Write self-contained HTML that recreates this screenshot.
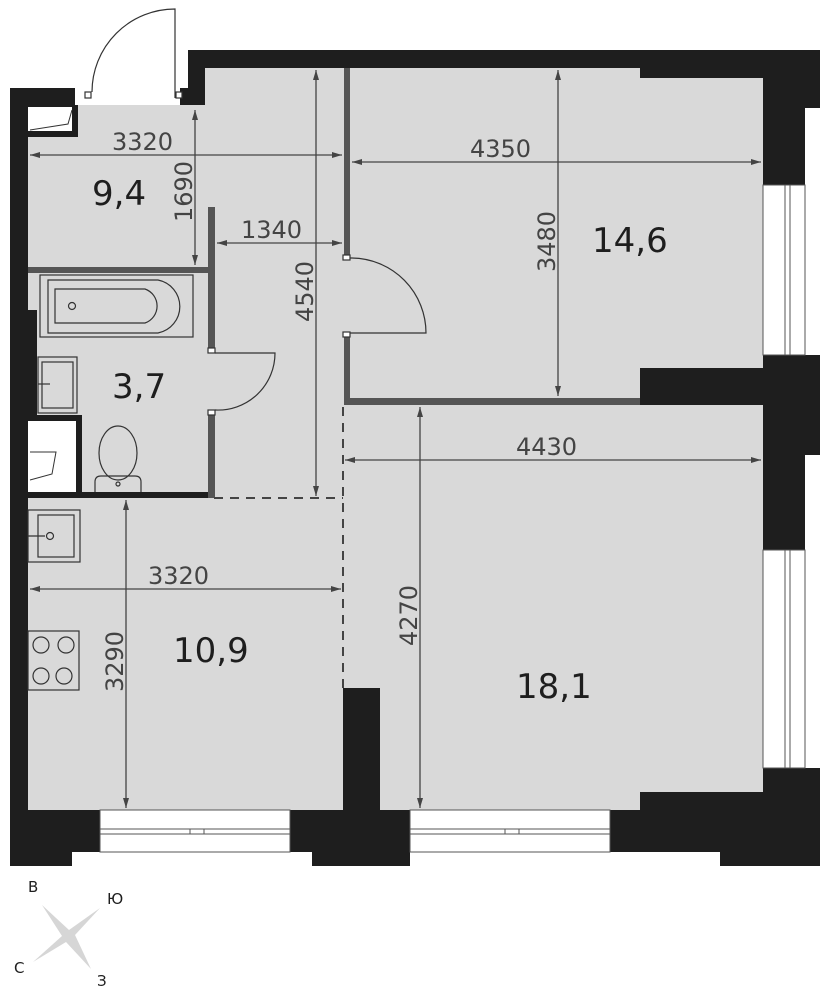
<!DOCTYPE html>
<html><head><meta charset="utf-8"><style>
html,body{margin:0;padding:0;background:#fff;width:828px;height:1000px;overflow:hidden}
text{font-family:"DejaVu Sans","Liberation Sans",sans-serif}
</style></head><body>
<svg width="828" height="1000" viewBox="0 0 828 1000" xmlns="http://www.w3.org/2000/svg">
<defs>
<marker id="a" viewBox="0 0 10 6" refX="10" refY="3" markerWidth="10" markerHeight="6" orient="auto-start-reverse" markerUnits="userSpaceOnUse"><path d="M0,0L10,3L0,6z" fill="#444"/></marker>
</defs>
<!-- floor -->
<rect x="28" y="105" width="735" height="705" fill="#d9d9d9"/>
<rect x="205" y="68" width="558" height="40" fill="#d9d9d9"/>
<g fill="#1e1e1e">
<!-- top wall -->
<rect x="188" y="50" width="575" height="18"/>
<rect x="640" y="50" width="123" height="28"/>
<rect x="188" y="50" width="17" height="55"/>
<rect x="180" y="88" width="25" height="17"/>
<!-- left -->
<rect x="10" y="88" width="65" height="17"/>
<rect x="10" y="88" width="18" height="722"/>
<rect x="10" y="310" width="27" height="140"/>
<!-- right -->
<rect x="763" y="50" width="42" height="135"/>
<rect x="805" y="50" width="15" height="58"/>
<rect x="763" y="355" width="42" height="195"/>
<rect x="805" y="355" width="15" height="100"/>
<rect x="763" y="768" width="57" height="42"/>
<rect x="640" y="792" width="123" height="18"/>
<!-- bottom -->
<rect x="10" y="810" width="90" height="42"/>
<rect x="10" y="852" width="62" height="14"/>
<rect x="290" y="810" width="120" height="42"/>
<rect x="312" y="852" width="98" height="14"/>
<rect x="610" y="810" width="210" height="42"/>
<rect x="720" y="852" width="100" height="14"/>
<!-- interior black -->
<rect x="640" y="368" width="123" height="37"/>
<rect x="343" y="688" width="37" height="122"/>
<rect x="28" y="492" width="182" height="6"/>
<rect x="76" y="415" width="6" height="80"/>
<rect x="28" y="415" width="54" height="6"/>
<rect x="28" y="105" width="50" height="32"/>
</g>
<!-- closets white -->
<rect x="28" y="421" width="48" height="71" fill="#fff"/>
<rect x="28" y="107" width="44" height="24" fill="#fff"/>
<path d="M30,130L68,124L72,110" fill="none" stroke="#333" stroke-width="1"/>
<path d="M30,480L52,474L56,452L30,452" fill="none" stroke="#333" stroke-width="1"/>
<!-- gray partitions -->
<g fill="#555">
<rect x="344" y="68" width="6" height="187"/>
<rect x="344" y="335" width="6" height="70"/>
<rect x="350" y="398" width="290" height="7"/>
<rect x="28" y="267" width="187" height="6"/>
<rect x="208" y="207" width="7" height="145"/>
<rect x="208" y="410" width="7" height="88"/>
</g>
<!-- dashed -->
<g stroke="#444" stroke-width="2" stroke-dasharray="9,7" fill="none">
<line x1="343" y1="407" x2="343" y2="688"/>
<line x1="214" y1="498" x2="343" y2="498"/>
</g>
<!-- windows -->
<g fill="#fff" stroke="#555" stroke-width="1">
<rect x="100" y="810" width="190" height="42"/>
<rect x="410" y="810" width="200" height="42"/>
<rect x="763" y="185" width="42" height="170"/>
<rect x="763" y="550" width="42" height="218"/>
<line x1="100" y1="829" x2="290" y2="829"/><line x1="100" y1="834" x2="290" y2="834"/>
<line x1="410" y1="829" x2="610" y2="829"/><line x1="410" y1="834" x2="610" y2="834"/>
<line x1="785" y1="185" x2="785" y2="355"/><line x1="790" y1="185" x2="790" y2="355"/>
<line x1="785" y1="550" x2="785" y2="768"/><line x1="790" y1="550" x2="790" y2="768"/>
<rect x="190" y="829" width="14" height="5"/><rect x="505" y="829" width="14" height="5"/>
</g>
<!-- doors -->
<g fill="none" stroke="#333" stroke-width="1.2">
<path d="M175,98L175,9A83,83 0 0 0 92,92"/>
<rect x="85" y="92" width="6" height="6" fill="#fff"/><rect x="176" y="92" width="6" height="6" fill="#fff"/>
<path d="M350,258L352,258A75,75 0 0 1 426,333L350,333"/>
<rect x="343" y="255" width="7" height="5" fill="#fff"/><rect x="343" y="332" width="7" height="5" fill="#fff"/>
<path d="M215,353L275,353A57,57 0 0 1 215,410"/>
<rect x="208" y="348" width="7" height="5" fill="#fff"/><rect x="208" y="410" width="7" height="5" fill="#fff"/>
<!-- bath -->
<rect x="40" y="275" width="153" height="62"/>
<path d="M48,280L158,280A27,27 0 0 1 158,333L48,333Z"/>
<path d="M55,289L145,289A18,18 0 0 1 145,323L55,323Z"/>
<circle cx="72" cy="306" r="3.5"/>
<!-- sink -->
<rect x="38" y="357" width="39" height="56"/><rect x="42" y="362" width="31" height="46"/>
<line x1="38" y1="384" x2="50" y2="384"/>
<!-- toilet -->
<ellipse cx="118" cy="453" rx="19" ry="27"/>
<path d="M95,492L95,482Q95,476 101,476L135,476Q141,476 141,482L141,492"/>
<circle cx="118" cy="484" r="2"/>
<!-- kitchen sink -->
<rect x="28" y="510" width="52" height="52"/><rect x="38" y="515" width="36" height="42"/>
<line x1="28" y1="536" x2="45" y2="536"/><circle cx="50" cy="536" r="3.5"/>
<!-- stove -->
<rect x="28" y="631" width="51" height="59"/>
<circle cx="41" cy="645" r="8"/><circle cx="66" cy="645" r="8"/><circle cx="41" cy="676" r="8"/><circle cx="64" cy="676" r="8"/>
</g>
<!-- dimension lines -->
<g stroke="#444" stroke-width="1.3" marker-start="url(#a)" marker-end="url(#a)">
<line x1="30" y1="155" x2="342" y2="155"/>
<line x1="352" y1="162" x2="761" y2="162"/>
<line x1="195" y1="110" x2="195" y2="265"/>
<line x1="217" y1="243" x2="342" y2="243"/>
<line x1="316" y1="70" x2="316" y2="496"/>
<line x1="558" y1="70" x2="558" y2="396"/>
<line x1="345" y1="460" x2="761" y2="460"/>
<line x1="30" y1="589" x2="341" y2="589"/>
<line x1="126" y1="500" x2="126" y2="808"/>
<line x1="420" y1="407" x2="420" y2="808"/>
</g>
<g fill="#444" font-size="24">
<text x="112" y="155" dy="-5">3320</text>
<text x="470" y="162" dy="-5">4350</text>
<text x="241" y="243" dy="-5">1340</text>
<text x="516" y="460" dy="-5">4430</text>
<text x="148" y="589" dy="-5">3320</text>
<text transform="translate(195,222) rotate(-90)" dy="-3">1690</text>
<text transform="translate(316,322) rotate(-90)" dy="-3">4540</text>
<text transform="translate(558,272) rotate(-90)" dy="-3">3480</text>
<text transform="translate(420,646) rotate(-90)" dy="-3">4270</text>
<text transform="translate(126,692) rotate(-90)" dy="-3">3290</text>
</g>
<g fill="#1e1e1e" font-size="34">
<text x="92" y="205">9,4</text>
<text x="592" y="252">14,6</text>
<text x="112" y="398">3,7</text>
<text x="173" y="662">10,9</text>
<text x="516" y="698">18,1</text>
</g>
<!-- compass -->
<path d="M42,905L69,930L100,908L75,935L91,969L66,942L33,962L62,936Z" fill="#d6d6d6"/>
<g fill="#1e1e1e" font-size="15">
<text x="28" y="892">В</text><text x="107" y="904">Ю</text><text x="14" y="973">С</text><text x="97" y="986">З</text>
</g>
</svg>
</body></html>
